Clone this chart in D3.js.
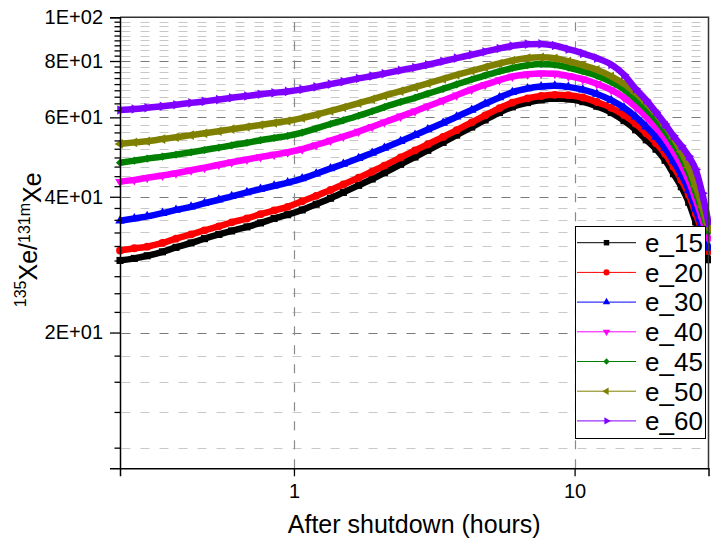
<!DOCTYPE html>
<html>
<head>
<meta charset="utf-8">
<script src="https://cdnjs.cloudflare.com/ajax/libs/d3/7.8.5/d3.min.js"></script>
<style>
  body { margin: 0; background: #fff; }
  svg { display: block; font-family: "Liberation Sans", Arial, sans-serif; }
</style>
</head>
<body>
<div id="chart"></div>
<script>
// time after shutdown (hours)
var hours = [0.24, 0.27, 0.3, 0.34, 0.38, 0.43, 0.48, 0.54, 0.6, 0.68, 0.76, 0.85, 0.95, 1.07, 1.2, 1.35, 1.5, 1.7, 1.9, 2.1, 2.4, 2.7, 3.0, 3.4, 3.8, 4.3, 4.8, 5.4, 6.0, 6.8, 7.6, 8.5, 9.5, 10.7, 12, 13.5, 15, 16.5, 18, 19.5, 21, 22.5, 24, 25.5, 27, 28.5, 30];

// 135Xe / 131mXe ratio per series
var e15 = [28.9, 29.2, 29.6, 30.2, 30.9, 31.6, 32.3, 33.0, 33.6, 34.3, 35.0, 35.8, 36.5, 37.4, 38.5, 39.7, 40.9, 42.4, 43.8, 45.2, 47.2, 49.0, 50.7, 52.8, 54.8, 57.1, 59.2, 61.5, 63.3, 64.7, 65.6, 66.1, 65.9, 65.0, 63.5, 61.5, 59.0, 56.3, 53.5, 51.0, 48.2, 45.0, 42.1, 38.9, 35.2, 32.0, 29.0];
var e20 = [30.4, 30.75, 31.0, 31.6, 32.3, 33.0, 33.7, 34.4, 35.1, 35.8, 36.6, 37.3, 38.0, 39.1, 40.2, 41.4, 42.6, 44.1, 45.5, 46.9, 48.9, 50.7, 52.3, 54.3, 56.2, 58.5, 60.6, 62.9, 64.7, 66.1, 66.9, 67.3, 67.2, 66.4, 64.9, 63.0, 60.7, 58.1, 55.3, 52.6, 49.8, 46.6, 43.6, 40.4, 36.7, 33.4, 30.3];
var e30 = [35.4, 35.8, 36.2, 36.8, 37.4, 38.0, 38.7, 39.4, 40.1, 40.9, 41.6, 42.3, 43.0, 43.9, 45.0, 46.2, 47.3, 48.7, 50.0, 51.3, 53.1, 54.8, 56.4, 58.3, 60.2, 62.3, 64.3, 66.4, 68.2, 69.5, 70.2, 70.5, 70.1, 69.1, 67.6, 65.5, 63.0, 60.2, 57.2, 54.3, 51.3, 48.0, 44.8, 41.4, 37.6, 34.0, 30.8];
var e40 = [43.2, 43.6, 44.1, 44.6, 45.1, 45.8, 46.4, 47.1, 47.7, 48.4, 49.0, 49.6, 50.2, 51.0, 52.1, 53.3, 54.4, 55.8, 57.2, 58.5, 60.3, 61.9, 63.5, 65.4, 67.2, 69.2, 70.9, 72.6, 73.9, 74.8, 75.1, 75.0, 74.1, 72.9, 71.2, 69.0, 66.4, 63.3, 60.2, 57.0, 53.8, 50.4, 47.0, 43.4, 39.4, 35.6, 32.2];
var e45 = [47.6, 48.1, 48.6, 49.1, 49.6, 50.2, 50.8, 51.4, 52.0, 52.7, 53.4, 54.0, 54.6, 55.5, 56.7, 58.0, 59.1, 60.5, 61.9, 63.2, 64.9, 66.3, 67.7, 69.4, 71.0, 72.8, 74.3, 75.9, 77.2, 78.3, 78.8, 78.5, 77.4, 75.9, 74.2, 71.9, 69.2, 66.0, 62.7, 59.4, 56.0, 52.5, 49.0, 45.2, 41.0, 37.0, 33.4];
var e50 = [52.4, 52.8, 53.1, 53.7, 54.2, 54.8, 55.3, 55.9, 56.5, 57.1, 57.7, 58.3, 58.9, 59.8, 60.8, 62.0, 63.1, 64.5, 65.8, 67.0, 68.6, 70.0, 71.4, 73.0, 74.5, 76.1, 77.5, 79.0, 80.2, 81.2, 81.5, 81.1, 79.9, 78.3, 76.5, 74.0, 71.2, 67.9, 64.5, 61.1, 57.6, 54.0, 50.4, 46.5, 42.2, 38.0, 34.0];
var e60 = [62.3, 62.6, 63.0, 63.5, 64.0, 64.6, 65.1, 65.7, 66.3, 66.9, 67.5, 68.0, 68.5, 69.2, 70.1, 71.1, 72.0, 73.2, 74.1, 75.0, 76.3, 77.4, 78.5, 79.9, 81.2, 82.6, 83.9, 85.3, 86.4, 87.2, 87.3, 86.6, 85.0, 83.2, 81.2, 78.6, 74.6, 69.4, 65.5, 61.6, 58.0, 54.6, 51.9, 49.2, 46.0, 40.7, 35.0];

var seriesNames = ["e_15", "e_20", "e_30", "e_40", "e_45", "e_50", "e_60"];
var seriesValues = [e15, e20, e30, e40, e45, e50, e60];
var seriesColors = ["#000000", "#ff0000", "#0000ff", "#ff00ff", "#008000", "#808000", "#8000ff"];

// axis ticks
var yMajorTicks = [20, 40, 60, 80, 100];
var yTickLabels = ["2E+01", "4E+01", "6E+01", "8E+01", "1E+02"];
var xMajorTicks = [1, 10];
var xTickLabels = ["1", "10"];

var width = 711;
var height = 542;
var margin = { top: 17.3, right: 2.5, bottom: 73.7, left: 120 };

var svg = d3.select("#chart")
  .append("svg")
  .attr("width", width)
  .attr("height", height);

// log scales for both axes
var xScale = d3.scaleLog()
  .domain([0.24, 30])
  .range([margin.left, width - margin.right]);

var yScale = d3.scaleLog()
  .domain([10, 100])
  .range([height - margin.bottom, margin.top]);

var plotLeft = margin.left;
var plotRight = width - margin.right;
var plotTop = margin.top;
var plotBottom = height - margin.bottom;

// minor tick values: 8 minor ticks between every major (step 20/9)
var yMinorTicks = [];
d3.range(0, 100, 20).forEach(function(m) {
  for (var k = 1; k < 9; k++) {
    var v = m + k * 20 / 9;
    if (v > 10 && v < 100) yMinorTicks.push(v);
  }
});

function snap(v) {
  return Math.round(v) + 0.5;
}

// horizontal gridlines (minor first, then major)
svg.append("g")
  .attr("class", "y minor grid")
  .selectAll("line")
  .data(yMinorTicks)
  .enter()
  .append("line")
  .attr("x1", plotLeft + 1.5)
  .attr("x2", plotRight)
  .attr("y1", function(d) { return snap(yScale(d)); })
  .attr("y2", function(d) { return snap(yScale(d)); })
  .style("stroke", "#c8c8c8")
  .style("stroke-dasharray", "9,10");

svg.append("g")
  .attr("class", "y major grid")
  .selectAll("line")
  .data(yMajorTicks.slice(0, 4))
  .enter()
  .append("line")
  .attr("x1", plotLeft + 1.5)
  .attr("x2", plotRight)
  .attr("y1", function(d) { return snap(yScale(d)); })
  .attr("y2", function(d) { return snap(yScale(d)); })
  .style("stroke", "#7a7a7a")
  .style("stroke-dasharray", "9,10");

// vertical gridlines at 1 and 10
svg.append("g")
  .attr("class", "x grid")
  .selectAll("line")
  .data(xMajorTicks)
  .enter()
  .append("line")
  .attr("x1", function(d) { return snap(xScale(d)); })
  .attr("x2", function(d) { return snap(xScale(d)); })
  .attr("y1", plotBottom)
  .attr("y2", plotTop + 2)
  .style("stroke", "#8a8a8a")
  .style("stroke-width", 1.2)
  .style("stroke-dasharray", "9,10");

// symbols for each series
var symbolSpecs = [
  { type: d3.symbolSquare, size: 50, rot: 0 },
  { type: d3.symbolCircle, size: 48, rot: 0 },
  { type: d3.symbolTriangle, size: 40, rot: 0 },
  { type: d3.symbolTriangle, size: 40, rot: 180 },
  { type: d3.symbolDiamond2, size: 42, rot: 0 },
  { type: d3.symbolTriangle, size: 40, rot: -90 },
  { type: d3.symbolTriangle, size: 40, rot: 90 }
];

var line = d3.line()
  .x(function(d) { return xScale(d.t); })
  .y(function(d) { return yScale(d.v); })
  .curve(d3.curveMonotoneX);

seriesValues.forEach(function(values, i) {
  var pts = hours.map(function(t, j) {
    return { t: t, v: values[j] };
  });
  var g = svg.append("g").attr("class", "series " + seriesNames[i]);

  // thick band (the dense markers in the original merge into a band)
  g.append("path")
    .datum(pts)
    .attr("d", line)
    .style("fill", "none")
    .style("stroke", seriesColors[i])
    .style("stroke-width", 6.5);

  g.selectAll("path.mark")
    .data(pts)
    .enter()
    .append("path")
    .attr("class", "mark")
    .attr("d", d3.symbol().type(symbolSpecs[i].type).size(symbolSpecs[i].size))
    .attr("transform", function(d) {
      return "translate(" + xScale(d.t) + "," + yScale(d.v) + ") rotate(" + symbolSpecs[i].rot + ")";
    })
    .style("fill", seriesColors[i]);
});

// frame (top and right)
svg.append("path")
  .attr("d", "M" + plotLeft + "," + plotTop + "H" + plotRight + "V" + plotBottom)
  .style("fill", "none")
  .style("stroke", "#333")
  .style("stroke-width", 1.5);

// y axis
var yAxis = d3.axisLeft(yScale)
  .tickValues(yMajorTicks)
  .tickSize(10)
  .tickPadding(7)
  .tickFormat(function(d, i) { return yTickLabels[i]; });

svg.append("g")
  .attr("class", "y axis")
  .attr("transform", "translate(" + plotLeft + ",0)")
  .call(yAxis);

// minor ticks on y axis
svg.append("g")
  .attr("class", "y axis minor")
  .attr("transform", "translate(" + plotLeft + ",0)")
  .call(d3.axisLeft(yScale).tickValues(yMinorTicks).tickSize(5.5).tickFormat(""))
  .select(".domain").remove();

// x axis
var xAxis = d3.axisBottom(xScale)
  .tickValues(xMajorTicks)
  .tickSize(8)
  .tickPadding(8)
  .tickFormat(function(d, i) { return xTickLabels[i]; });

svg.append("g")
  .attr("class", "x axis")
  .attr("transform", "translate(0," + plotBottom + ")")
  .call(xAxis);

svg.selectAll(".axis .domain")
  .style("stroke", "#000")
  .style("stroke-width", 1.5);
svg.selectAll(".axis .tick line")
  .style("stroke", "#000")
  .style("stroke-width", 1.3);
svg.selectAll(".axis text")
  .style("font-family", "Liberation Sans, Arial, sans-serif")
  .style("font-size", "20px")
  .style("fill", "#000");

// x axis label
svg.append("text")
  .attr("text-anchor", "middle")
  .attr("x", (plotLeft + plotRight) / 2)
  .attr("y", 533)
  .style("font-size", "25px")
  .text("After shutdown (hours)");

// y axis label
var yLabel = svg.append("text")
  .attr("text-anchor", "middle")
  .attr("transform", "translate(33," + ((plotTop + plotBottom) / 2 - 3) + ") rotate(-90)")
  .style("font-size", "25px");
yLabel.append("tspan").attr("dy", "-0.42em").style("font-size", "16px").text("135");
yLabel.append("tspan").attr("dy", "0.42em").text("Xe/");
yLabel.append("tspan").attr("dy", "-0.42em").style("font-size", "16px").text("131m");
yLabel.append("tspan").attr("dy", "0.42em").text("Xe");

// legend box
var legendX = 575;
var legendY = 226;
var rowH = 29.7;

svg.append("rect")
  .attr("class", "legend")
  .attr("x", legendX + 0.5)
  .attr("y", legendY + 0.5)
  .attr("width", 130)
  .attr("height", 212)
  .style("fill", "#fff")
  .style("stroke", "#000")
  .style("stroke-width", 1);

seriesNames.forEach(function(name, i) {
  var cy = legendY + 16.7 + i * rowH;
  svg.append("line")
    .attr("x1", legendX + 2)
    .attr("x2", legendX + 61)
    .attr("y1", cy)
    .attr("y2", cy)
    .style("stroke", seriesColors[i])
    .style("stroke-width", 1);
  svg.append("path")
    .attr("d", d3.symbol().type(symbolSpecs[i].type).size(symbolSpecs[i].size * 0.6))
    .attr("transform", "translate(" + (legendX + 31.5) + "," + cy + ") rotate(" + symbolSpecs[i].rot + ")")
    .style("fill", seriesColors[i]);
  svg.append("text")
    .attr("x", legendX + 70)
    .attr("y", cy)
    .attr("dy", "0.36em")
    .style("font-size", "26px")
    .text(name);
});
</script>
</body>
</html>
